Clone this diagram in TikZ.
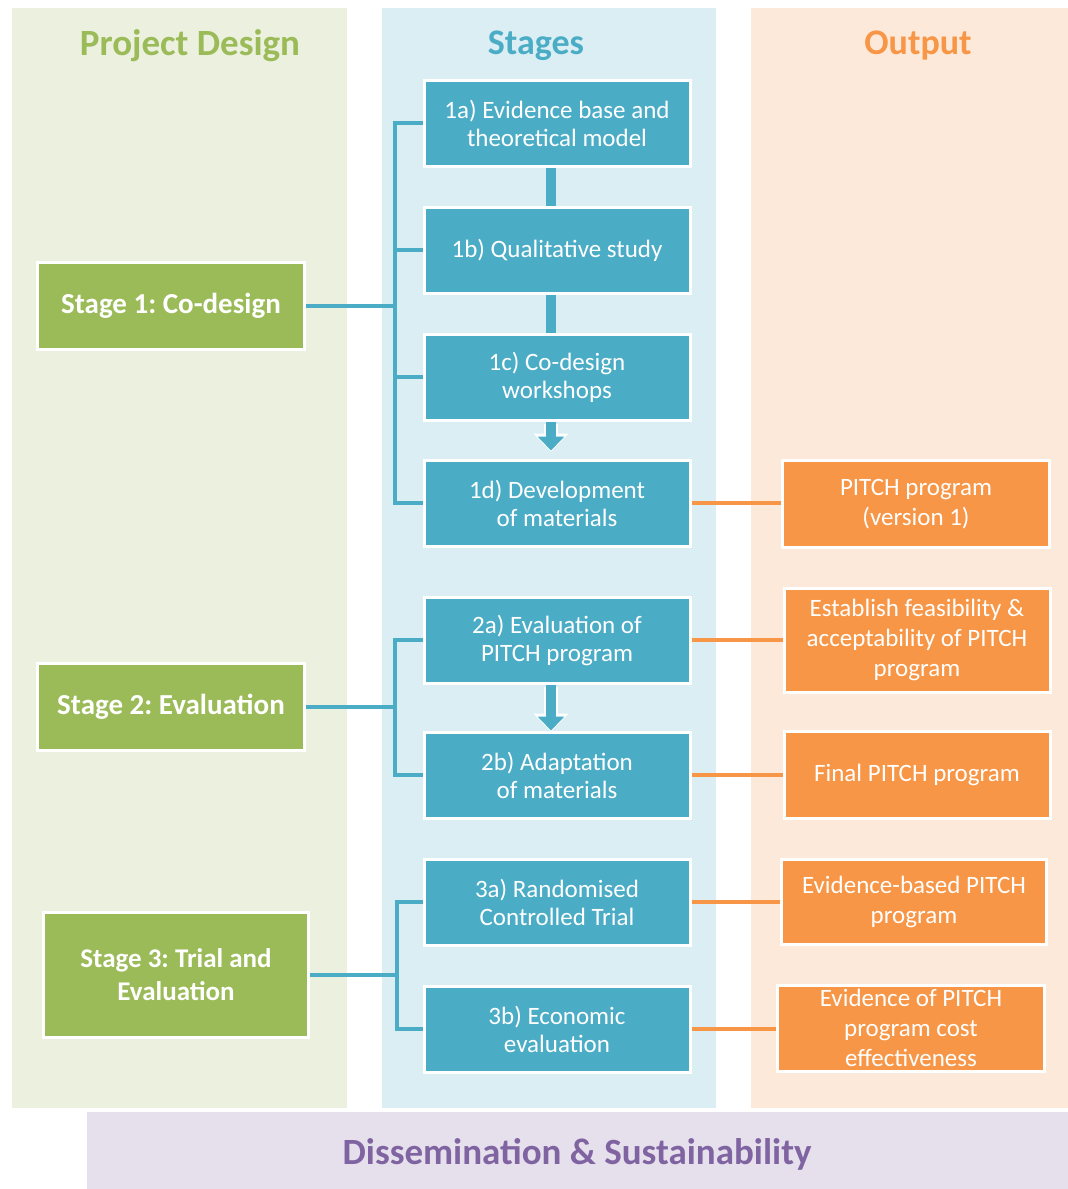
\documentclass[tikz,border=0pt]{standalone}
\usepackage{fontspec}
\setmainfont{Carlito}
\frenchspacing
\usetikzlibrary{arrows.meta}
\definecolor{teal}{HTML}{4BACC6}
\definecolor{grn}{HTML}{9BBB59}
\definecolor{org}{HTML}{F79646}
\definecolor{bggrn}{HTML}{EBF1DE}
\definecolor{bgblu}{HTML}{DAEEF3}
\definecolor{bgorg}{HTML}{FDE9D9}
\definecolor{bgpur}{HTML}{E5E0EC}
\definecolor{pur}{HTML}{8064A2}
\begin{document}
\begin{tikzpicture}[x=1pt,y=-1pt,
  stagebox/.style={fill=teal, draw=white, line width=3, text=white, align=center,
    font=\fontsize{25}{28}\selectfont, minimum width=266, minimum height=86, inner sep=0},
  greenbox/.style={fill=grn, draw=white, line width=3, text=white, align=center,
    font=\bfseries\fontsize{29}{33}\selectfont, minimum width=267, minimum height=87, inner sep=0},
  orgbox/.style={fill=org, draw=white, line width=3, text=white, align=center,
    font=\fontsize{25}{30}\selectfont, minimum width=267, minimum height=87, inner sep=0},
  coltitle/.style={font=\bfseries\fontsize{36}{40}\selectfont},
  tline/.style={draw=teal, line width=4, line join=miter},
  oline/.style={draw=org, line width=4},
  bar/.style={draw=teal, line width=10},
  blockarrow/.style={draw=teal, line width=10, -{Triangle[length=14,width=26]}},
  blockarrowedge/.style={draw=white, line width=14, -{Triangle[length=18,width=34]}}
]
\useasboundingbox (0,0) rectangle (1068,1189);
\fill[white] (0,0) rectangle (1068,1189);
% column backgrounds
\fill[bggrn] (12,8) rectangle (347,1108);
\fill[bgblu] (382,8) rectangle (716,1108);
\fill[bgorg] (751,8) rectangle (1068,1108);
\fill[bgpur] (87,1112) rectangle (1068,1189);
% titles
\node[coltitle, text=grn, font=\bfseries\fontsize{37}{40}\selectfont] (tpd) at (190,46) {Project Design};
\node[coltitle, text=teal] (tst) at (536,46) {Stages};
\node[coltitle, text=org] (tout) at (918,46) {Output};
\node[font=\bfseries\fontsize{37}{42}\selectfont, text=pur] (tdis) at (577,1154) {Dissemination \& Sustainability};
% stage boxes
\node[stagebox] (s1a) at (557,123) {1a) Evidence base and\\theoretical model};
\node[stagebox] (s1b) at (557,250) {1b) Qualitative study};
\node[stagebox] (s1c) at (557,377) {1c) Co-design\\workshops};
\node[stagebox] (s1d) at (557,503) {1d) Development\\of materials};
\node[stagebox] (s2a) at (557,640) {2a) Evaluation of\\PITCH program};
\node[stagebox] (s2b) at (557,775) {2b) Adaptation\\of materials};
\node[stagebox] (s3a) at (557,902) {3a) Randomised\\Controlled Trial};
\node[stagebox] (s3b) at (557,1029) {3b) Economic\\evaluation};
% green boxes
\node[greenbox] (g1) at (171,306) {Stage 1: Co-design};
\node[greenbox] (g2) at (171,707) {Stage 2: Evaluation};
\node[greenbox, minimum width=265, minimum height=125, font=\bfseries\fontsize{27}{33}\selectfont] (g3) at (176,975) {Stage 3: Trial and\\Evaluation};
% orange boxes
\node[orgbox] (o1) at (916,504) {PITCH program\\(version 1)};
\node[orgbox, minimum width=266, minimum height=104] (o2) at (917,640) {Establish feasibility \&\\acceptability of PITCH\\program};
\node[orgbox, minimum width=266] (o3) at (917,775) {Final PITCH program};
\node[orgbox, minimum width=265, minimum height=85] (o4) at (914,902) {Evidence-based PITCH\\program};
\node[orgbox, minimum width=267, minimum height=86] (o5) at (911,1028) {Evidence of PITCH\\program cost\\effectiveness};
% brackets stage 1
\coordinate (b1) at (395,306);
\draw[tline] (g1.east) -- (b1);
\draw[tline] (s1a.west) -- (s1a.west -| b1) -- (s1d.west -| b1) -- (s1d.west);
\draw[tline] (s1b.west) -- (s1b.west -| b1);
\draw[tline] (s1c.west) -- (s1c.west -| b1);
% bracket stage 2
\coordinate (b2) at (395,707);
\draw[tline] (g2.east) -- (b2);
\draw[tline] (s2a.west) -- (s2a.west -| b2) -- (s2b.west -| b2) -- (s2b.west);
% bracket stage 3
\coordinate (b3) at (397,975);
\draw[tline] (g3.east) -- (b3);
\draw[tline] (s3a.west) -- (s3a.west -| b3) -- (s3b.west -| b3) -- (s3b.west);
% vertical links
\draw[bar] ([xshift=-6]s1a.south) -- ([xshift=-6]s1b.north);
\draw[bar] ([xshift=-6]s1b.south) -- ([xshift=-6]s1c.north);
\draw[blockarrowedge] ([xshift=-6,yshift=-2]s1c.south) -- ([xshift=-6,yshift=7]s1d.north);
\draw[blockarrow] ([xshift=-6]s1c.south) -- ([xshift=-6,yshift=8]s1d.north);
\draw[blockarrowedge] ([xshift=-6,yshift=-2]s2a.south) -- ([xshift=-6,yshift=-1]s2b.north);
\draw[blockarrow] ([xshift=-6]s2a.south) -- ([xshift=-6]s2b.north);
% output links
\draw[oline] (s1d.east) -- (s1d.east -| o1.west);
\draw[oline] (s2a.east) -- (s2a.east -| o2.west);
\draw[oline] (s2b.east) -- (s2b.east -| o3.west);
\draw[oline] (s3a.east) -- (s3a.east -| o4.west);
\draw[oline] (s3b.east) -- (s3b.east -| o5.west);
\end{tikzpicture}
\end{document}
